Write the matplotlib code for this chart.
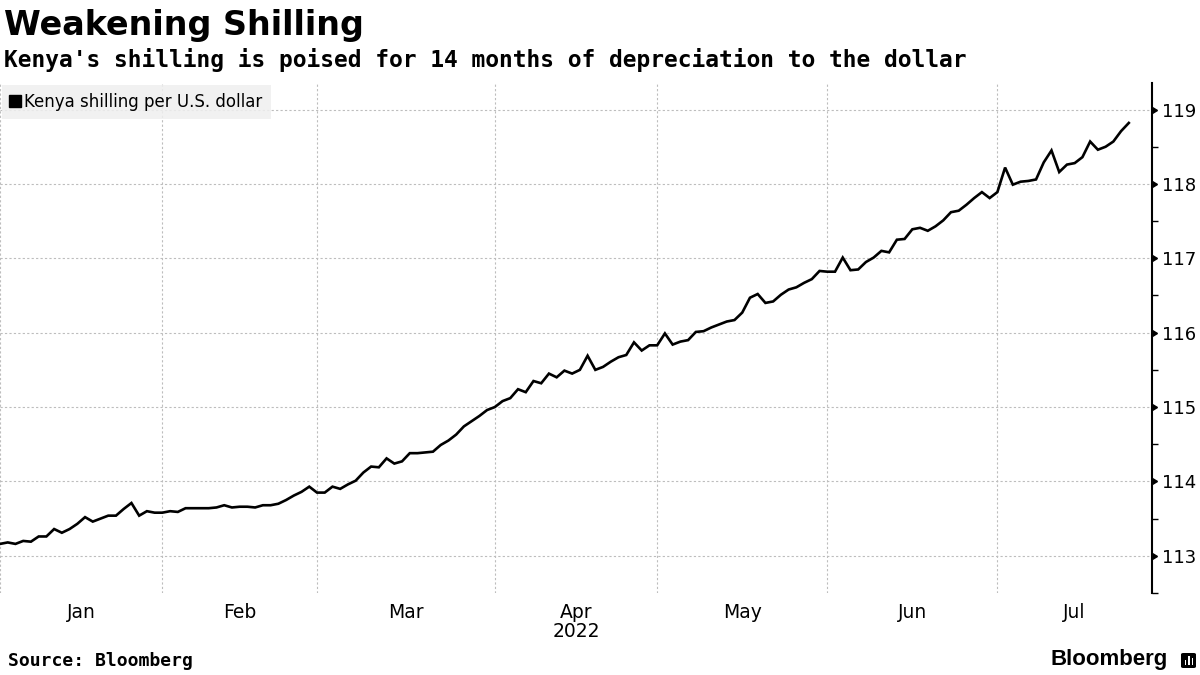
import matplotlib
matplotlib.use('Agg')
import matplotlib.pyplot as plt
from matplotlib.lines import Line2D
from matplotlib.patches import FancyBboxPatch, Rectangle
import numpy as np
import pandas as pd

plt.rcParams['font.family'] = ['DejaVu Sans']

# Kenya shilling per U.S. dollar, one value per weekday from 3 Jan 2022
jan = [113.16, 113.18, 113.16, 113.20, 113.19, 113.26, 113.26, 113.36, 113.31, 113.36,
       113.43, 113.52, 113.46, 113.50, 113.54, 113.54, 113.63, 113.71, 113.54, 113.60,
       113.58]
feb = [113.58, 113.60, 113.59, 113.64, 113.64, 113.64, 113.64, 113.65, 113.68, 113.65,
       113.66, 113.66, 113.65, 113.68, 113.68, 113.70, 113.75, 113.81, 113.86, 113.93]
mar = [113.85, 113.85, 113.93, 113.90, 113.96, 114.01, 114.12, 114.20, 114.19, 114.31,
       114.24, 114.27, 114.38, 114.38, 114.39, 114.40, 114.49, 114.55, 114.63, 114.74,
       114.81, 114.88, 114.96]
apr = [115.00, 115.08, 115.12, 115.24, 115.20, 115.35, 115.32, 115.45, 115.40, 115.49,
       115.45, 115.50, 115.69, 115.50, 115.54, 115.61, 115.67, 115.70, 115.87, 115.76,
       115.83]
may = [115.83, 115.99, 115.84, 115.88, 115.90, 116.01, 116.02, 116.07, 116.11, 116.15,
       116.17, 116.27, 116.47, 116.52, 116.40, 116.42, 116.51, 116.58, 116.61, 116.67,
       116.72, 116.83]
jun = [116.82, 116.82, 117.01, 116.84, 116.85, 116.95, 117.01, 117.10, 117.08, 117.25,
       117.26, 117.39, 117.41, 117.37, 117.43, 117.51, 117.62, 117.64, 117.72, 117.81,
       117.89, 117.81]
jul = [117.89, 118.22, 117.99, 118.03, 118.04, 118.06, 118.29, 118.45, 118.16, 118.26,
       118.28, 118.36, 118.57, 118.46, 118.50, 118.57, 118.71, 118.82]

values = np.array(jan + feb + mar + apr + may + jun + jul)
dates = pd.bdate_range('2022-01-03', periods=len(values))
y_ticks = [113, 114, 115, 116, 117, 118, 119]
series_label = 'Kenya shilling per U.S. dollar'

# weekday index is the x position (Bloomberg style business-day axis)
x = np.arange(len(values))
x_end = len(values) + 2  # a little room after the last value

# month boundaries and month label positions
months = dates.month
month_starts = [0] + [i for i in range(1, len(dates)) if months[i] != months[i - 1]]
bounds = month_starts + [x_end]
mid_pos = [(bounds[i] + bounds[i + 1]) / 2 for i in range(len(month_starts))]
mid_labels = [dates[i].strftime('%b') for i in month_starts]
mid_labels = [lab + '\n2022' if lab == 'Apr' else lab for lab in mid_labels]

fig = plt.figure(figsize=(12, 6.75), dpi=100)
ax = fig.add_axes([0.0, 1 - 593 / 675, 0.96, (593 - 83) / 675])

ax.plot(x, values, color='black', linewidth=1.9, zorder=3, solid_joinstyle='miter')

ax.set_xlim(0, x_end)
ax.set_ylim(112.617, 119.357)

# grid: dotted lines at month starts and whole shillings
ax.set_xticks(month_starts)
ax.set_xticks(mid_pos, minor=True)
ax.set_xticklabels(mid_labels, minor=True, fontsize=13.5, linespacing=1.05)
ax.tick_params(axis='x', which='major', length=0, labelbottom=False)
ax.tick_params(axis='x', which='minor', length=0, pad=7)
ax.grid(True, axis='x', which='major', color='#bdbdbd', linestyle=(0, (2, 2)), linewidth=0.8)
ax.grid(True, axis='y', which='major', color='#bdbdbd', linestyle=(0, (2, 2)), linewidth=0.8)
ax.set_axisbelow(True)

# right-hand y axis
ax.yaxis.tick_right()
ax.set_yticks(y_ticks)
ax.set_yticks(np.arange(112.5, 119.5, 1.0), minor=True)
ax.set_yticklabels([str(v) for v in y_ticks], fontsize=13)
ax.tick_params(axis='y', which='major', length=5, width=1, pad=2, color='black')
ax.tick_params(axis='y', which='minor', length=4, width=1, color='black')
for t in ax.yaxis.get_major_ticks():
    t.tick2line.set_marker(9)  # caret pointing right from the spine
    t.tick2line.set_markersize(5)

for side in ['top', 'left', 'bottom']:
    ax.spines[side].set_visible(False)
ax.spines['right'].set_linewidth(1.5)

# legend box
handle = Line2D([], [], linestyle='none', marker='s', markersize=8.5,
                color='black')
leg = ax.legend([handle], [series_label], loc='upper left', fontsize=12,
                frameon=True, fancybox=False, borderaxespad=0.1,
                handlelength=0.6, handletextpad=0.25, borderpad=0.5)
leg.get_frame().set_facecolor('#efefef')
leg.get_frame().set_edgecolor('none')
leg.get_frame().set_alpha(0.85)

# titles
fig.text(0.003, 1 - 35 / 675, 'Weakening Shilling', fontsize=24,
         fontweight='bold', va='baseline', ha='left')
fig.text(0.003, 1 - 67 / 675,
         "Kenya's shilling is poised for 14 months of depreciation to the dollar",
         fontsize=16.5, fontweight='bold', family='DejaVu Sans Mono',
         va='baseline', ha='left')

# footer
fig.text(0.007, 1 - 661 / 675, 'Source: Bloomberg', fontsize=13,
         fontweight='bold', family='DejaVu Sans Mono', va='center', ha='left')
fig.text(1168 / 1200, 1 - 660 / 675, 'Bloomberg', fontsize=16,
         fontweight='bold', family='Liberation Sans', va='center', ha='right')
icon = FancyBboxPatch((1181 / 1200, 1 - 668 / 675), 15 / 1200, 15 / 675,
                      boxstyle='round,pad=0,rounding_size=0.002',
                      transform=fig.transFigure, facecolor='black',
                      edgecolor='none')
fig.patches.append(icon)
for bx, bh in zip([1184.5, 1188, 1191.5], [5, 9, 7]):
    fig.patches.append(Rectangle((bx / 1200, 1 - 665 / 675), 1.8 / 1200, bh / 675,
                                 transform=fig.transFigure, facecolor='white',
                                 edgecolor='none'))

fig.savefig('out.png', dpi=100, facecolor='white')
plt.close(fig)
